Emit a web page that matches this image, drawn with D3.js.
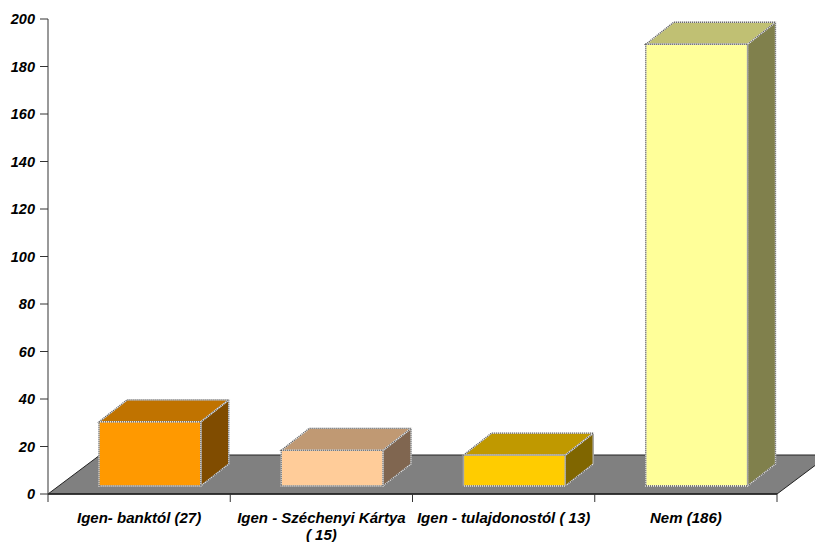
<!DOCTYPE html>
<html>
<head>
<meta charset="utf-8">
<script src="https://cdn.jsdelivr.net/npm/d3@7"></script>
<style>
  body { margin: 0; background: #fff; }
  text { font-family: "Liberation Sans", Arial, sans-serif; font-weight: bold; font-style: italic; fill: #000; }
</style>
</head>
<body>
<script>
const categories = ["Igen- banktól (27)", "Igen - Széchenyi Kártya\n( 15)", "Igen - tulajdonostól ( 13)", "Nem (186)"],
      values = [27, 15, 13, 186],
      frontColors = ["#ff9900", "#ffcc99", "#ffcc00", "#ffff99"],
      topColors = ["#c07300", "#c09973", "#c09900", "#c0c073"],
      sideColors = ["#804c00", "#806650", "#806600", "#80804c"],
      yTicks = [0, 20, 40, 60, 80, 100, 120, 140, 160, 180, 200];

const WIDTH = 815,
      HEIGHT = 542,
      AXIS_LEFT = 48,
      AXIS_RIGHT = 777,
      FLOOR_DX = 52,   // depth of the floor
      FLOOR_DY = -39,
      BAR_DX = 28,     // depth of each bar
      BAR_DY = -22,
      BAR_SHIFT_X = 11, // bars sit a bit back on the floor
      BAR_SHIFT_Y = -8,
      BAR_INSET = 40;

const svg = d3.select("body").append("svg")
  .attr("width", WIDTH)
  .attr("height", HEIGHT);

const x = d3.scaleBand().domain(categories).range([AXIS_LEFT, AXIS_RIGHT]);
const y = d3.scaleLinear().domain([0, 200]).range([494, 19]);

const base = y(0);

// floor
const floor = [[AXIS_LEFT, base], [AXIS_RIGHT, base],
               [AXIS_RIGHT + FLOOR_DX, base + FLOOR_DY], [AXIS_LEFT + FLOOR_DX, base + FLOOR_DY]];
svg.append("polygon")
  .attr("points", floor.map(p => p.join(",")).join(" "))
  .attr("fill", "#808080")
  .attr("stroke", "#222")
  .attr("stroke-width", 1);

// bars
const data = categories.map((c, i) => ({ cat: c, value: values[i], i: i }));
const barWidth = x.bandwidth() - 2 * BAR_INSET - 0.5;

const bars = svg.append("g").selectAll("g.bar")
  .data(data)
  .join("g")
  .attr("class", "bar");

function faces(d) {
  let x0 = x(d.cat) + BAR_INSET + BAR_SHIFT_X,
      x1 = x0 + barWidth,
      yb = base + BAR_SHIFT_Y,
      yt = y(d.value) + BAR_SHIFT_Y;
  return {
    front: [[x0, yt], [x1, yt], [x1, yb], [x0, yb]],
    top: [[x0, yt], [x0 + BAR_DX, yt + BAR_DY], [x1 + BAR_DX, yt + BAR_DY], [x1, yt]],
    side: [[x1, yt], [x1 + BAR_DX, yt + BAR_DY], [x1 + BAR_DX, yb + BAR_DY], [x1, yb]]
  };
}

const pts = p => p.map(q => q.join(",")).join(" ");

["side", "top", "front"].forEach(face => {
  let fill = face == "front" ? frontColors : face == "top" ? topColors : sideColors;
  bars.append("polygon")
    .attr("points", d => pts(faces(d)[face]))
    .attr("fill", d => fill[d.i])
    .attr("stroke", "#eee")
    .attr("stroke-width", 1.3);
  bars.append("polygon")
    .attr("points", d => pts(faces(d)[face]))
    .attr("fill", "none")
    .attr("stroke", "#555")
    .attr("stroke-width", 1.3)
    .attr("stroke-dasharray", "1,1");
});

// y axis
const yAxis = svg.append("g");
yAxis.append("line")
  .attr("x1", AXIS_LEFT).attr("x2", AXIS_LEFT)
  .attr("y1", y(200)).attr("y2", base)
  .attr("stroke", "#777").attr("stroke-width", 1.5);

yAxis.selectAll("line.tick")
  .data(yTicks)
  .join("line")
  .attr("class", "tick")
  .attr("x1", AXIS_LEFT - 8).attr("x2", AXIS_LEFT)
  .attr("y1", d => y(d)).attr("y2", d => y(d))
  .attr("stroke", "#333");

yAxis.selectAll("text")
  .data(yTicks)
  .join("text")
  .attr("x", 35)
  .attr("y", d => y(d))
  .attr("dy", "0.36em")
  .attr("text-anchor", "end")
  .attr("font-size", 14.5)
  .text(d => d);

// x axis
const xAxis = svg.append("g");
xAxis.append("line")
  .attr("x1", AXIS_LEFT).attr("x2", AXIS_RIGHT)
  .attr("y1", base).attr("y2", base)
  .attr("stroke", "#222").attr("stroke-width", 1.5);

xAxis.selectAll("line.tick")
  .data(categories.map(c => x(c)).concat([AXIS_RIGHT]))
  .join("line")
  .attr("class", "tick")
  .attr("x1", d => d).attr("x2", d => d)
  .attr("y1", base).attr("y2", base + 8)
  .attr("stroke", "#333");

xAxis.selectAll("text")
  .data(categories)
  .join("text")
  .attr("text-anchor", "middle")
  .attr("font-size", 15)
  .each(function(c) {
    let lines = c.split("\n");
    d3.select(this).selectAll("tspan")
      .data(lines)
      .join("tspan")
      .attr("x", x(c) + x.bandwidth() / 2)
      .attr("y", (l, j) => 523 + j * 17)
      .text(l => l);
  });
</script>
</body>
</html>
